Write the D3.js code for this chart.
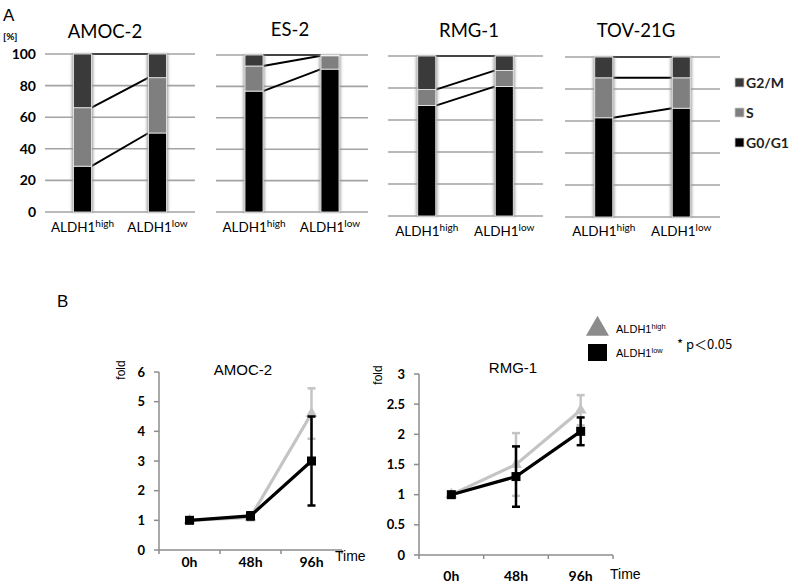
<!DOCTYPE html>
<html><head><meta charset="utf-8">
<script src="https://cdn.jsdelivr.net/npm/d3@7"></script>
<style>body{margin:0;background:#fff}svg{display:block}</style>
</head><body>
<svg id="c" width="796" height="583"></svg>
<script>
// ---------- Panel A data (cell-cycle %) ----------
const groups = ["ALDH1high", "ALDH1low"];
const phases = ["G0/G1", "S", "G2/M"];
const cellLines = ["AMOC-2", "ES-2", "RMG-1", "TOV-21G"];
// values [G0/G1, S, G2/M] for high then low
const amocPhase = [[29, 37, 34], [50, 35, 15]];
const es2Phase = [[77, 16, 7], [91, 8.5, 0.5]];
const rmgPhase = [[69, 10, 21], [81, 10, 9]];
const tovPhase = [[62, 25, 13], [68, 19, 13]];
const pctTicks = [0, 20, 40, 60, 80, 100];

// ---------- Panel B data (fold growth) ----------
const times = ["0h", "48h", "96h"];
const amocHigh = [1, 1.1, 4.6];
const amocHighErr = [0.05, 0.1, 0.85];
const amocLow = [1, 1.15, 3.0];
const amocLowErr = [0.05, 0.12, 1.5];
const rmgHigh = [1, 1.5, 2.4];
const rmgHighErr = [0.03, 0.52, 0.25];
const rmgLow = [1, 1.3, 2.05];
const rmgLowErr = [0.03, 0.5, 0.23];
const amocTicks = [0, 1, 2, 3, 4, 5, 6];
const rmgTicks = [0, 0.5, 1, 1.5, 2, 2.5, 3];

const svg = d3.select("#c");
const defs = svg.append("defs");
const f = defs.append("filter").attr("id", "sh").attr("x", "-50%").attr("width", "200%");
f.append("feGaussianBlur").attr("stdDeviation", 1.6);

const phaseColor = {"G0/G1": "#000", "S": "#7f7f7f", "G2/M": "#3a3a3a"};
const gridCol = "#a3a3a3";
const calib = "Lato, 'Open Sans', sans-serif";
const arial = "'Liberation Sans', Arial, sans-serif";

// panel labels
svg.append("text").attr("x", 3).attr("y", 21).text("A")
  .attr("font-family", arial).attr("font-size", 17);
svg.append("text").attr("x", 3).attr("y", 40).text("[%]")
  .attr("font-family", calib).attr("font-size", 10).attr("font-weight", 700);

const aLayout = [
  {name: cellLines[0], data: amocPhase, x0: 45, x1: 195, yTop: 54, yBot: 212, tx: 105, ty: 38, ly: 232, axis: true},
  {name: cellLines[1], data: es2Phase, x0: 216, x1: 368, yTop: 55, yBot: 212, tx: 290, ty: 36, ly: 232},
  {name: cellLines[2], data: rmgPhase, x0: 388, x1: 543, yTop: 56, yBot: 216, tx: 469, ty: 37, ly: 236},
  {name: cellLines[3], data: tovPhase, x0: 565, x1: 720, yTop: 57, yBot: 217, tx: 636, ty: 37, ly: 236}
];
const barW = 18;

aLayout.forEach(p => {
  const g = svg.append("g");
  const x = d3.scalePoint().domain(groups).range([p.x0, p.x1]).padding(0.5);
  const y = d3.scaleLinear().domain([0, 100]).range([p.yBot, p.yTop]);
  // gridlines
  g.selectAll("line.grid").data(pctTicks).join("line")
    .attr("x1", p.x0).attr("x2", p.x1)
    .attr("y1", d => y(d)).attr("y2", d => y(d))
    .attr("stroke", gridCol).attr("stroke-width", 1.6);
  if (p.axis) {
    g.selectAll("text.yt").data(pctTicks).join("text")
      .attr("x", 36).attr("y", d => y(d)).attr("dy", "0.35em")
      .attr("text-anchor", "end").attr("font-family", calib)
      .attr("font-size", 14).attr("font-weight", 700).text(d => d);
  }
  // title
  g.append("text").attr("x", p.tx).attr("y", p.ty).attr("text-anchor", "middle")
    .attr("font-family", calib).attr("font-size", 18.5).text(p.name);
  // stacks
  const stacked = groups.map((grp, i) => {
    let c = 0;
    return phases.map((ph, j) => {
      const s = {grp, ph, y0: c, y1: c + p.data[i][j]};
      c += p.data[i][j];
      return s;
    });
  });
  // connectors (boundaries)
  for (let j = 0; j < 3; j++) {
    const a = stacked[0][j], b = stacked[1][j];
    g.append("line")
      .attr("x1", x(groups[0]) + barW / 2).attr("y1", y(a.y1))
      .attr("x2", x(groups[1]) - barW / 2).attr("y2", y(b.y1))
      .attr("stroke", j === 2 ? "#444" : "#000").attr("stroke-width", 2);
  }
  stacked.forEach((st, i) => {
    const top = st[2].y1;
    g.append("rect").attr("x", x(groups[i]) - barW / 2 - 1.5).attr("width", barW + 3)
      .attr("y", y(top)).attr("height", y(0) - y(top))
      .attr("fill", "#999").attr("filter", "url(#sh)");
    g.selectAll(null).data(st).join("rect")
      .attr("x", x(groups[i]) - barW / 2).attr("width", barW)
      .attr("y", d => y(d.y1)).attr("height", d => y(d.y0) - y(d.y1))
      .attr("fill", d => phaseColor[d.ph])
      .attr("stroke", "#f0f0f0").attr("stroke-width", 0.8);
  });
  // x labels
  groups.forEach(grp => {
    const t = g.append("text").attr("x", x(grp)).attr("y", p.ly)
      .attr("text-anchor", "middle").attr("font-family", calib).attr("font-size", 13.5);
    t.append("tspan").text("ALDH1");
    t.append("tspan").attr("dy", -5).attr("font-size", 10).text(grp.replace("ALDH1", ""));
  });
});

// legend A
const legA = ["G2/M", "S", "G0/G1"];
legA.forEach((ph, i) => {
  const yy = 83 + i * 30;
  svg.append("rect").attr("x", 735).attr("y", yy - 5).attr("width", 9).attr("height", 9)
    .attr("fill", phaseColor[ph]).attr("stroke", "#ccc").attr("stroke-width", 0.8);
  svg.append("text").attr("x", 746).attr("y", yy).attr("dy", "0.38em")
    .attr("font-family", calib).attr("font-size", 14).attr("font-weight", 700)
    .attr("fill", "#222").text(ph);
});

// ---------- Panel B ----------
svg.append("text").attr("x", 57).attr("y", 307).text("B")
  .attr("font-family", arial).attr("font-size", 17);

const bLayout = [
  {name: "AMOC-2", high: amocHigh, highErr: amocHighErr, low: amocLow, lowErr: amocLowErr,
   ticks: amocTicks, max: 6, x0: 159, x1: 342, yTop: 372, yBot: 550,
   tx: 243, ty: 375, foldX: 125, foldY: 370, timeX: 335, timeY: 561, lblY: 567},
  {name: "RMG-1", high: rmgHigh, highErr: rmgHighErr, low: rmgLow, lowErr: rmgLowErr,
   ticks: rmgTicks, max: 3, x0: 419, x1: 613, yTop: 374, yBot: 555,
   tx: 513, ty: 373, foldX: 382, foldY: 375, timeX: 610, timeY: 579, lblY: 581}
];

bLayout.forEach(p => {
  const g = svg.append("g");
  const x = d3.scaleBand().domain(times).range([p.x0, p.x1]);
  const y = d3.scaleLinear().domain([0, p.max]).range([p.yBot, p.yTop]);
  const axCol = "#8c8c8c";
  // y axis
  g.append("line").attr("x1", p.x0).attr("x2", p.x0).attr("y1", p.yBot).attr("y2", p.yTop)
    .attr("stroke", axCol).attr("stroke-width", 1.5);
  g.selectAll("line.yt").data(p.ticks).join("line")
    .attr("x1", p.x0 - 5).attr("x2", p.x0).attr("y1", d => y(d)).attr("y2", d => y(d))
    .attr("stroke", axCol).attr("stroke-width", 1.5);
  g.selectAll("text.yl").data(p.ticks).join("text")
    .attr("x", p.x0 - 14).attr("y", d => y(d)).attr("dy", "0.35em").attr("text-anchor", "end")
    .attr("font-family", calib).attr("font-size", 13).attr("font-weight", 700).text(d => d);
  // x axis
  g.append("line").attr("x1", p.x0).attr("x2", p.x1).attr("y1", p.yBot).attr("y2", p.yBot)
    .attr("stroke", axCol).attr("stroke-width", 1.5);
  const bounds = times.map(t => x(t)).concat([p.x1]);
  g.selectAll("line.xt").data(bounds).join("line")
    .attr("x1", d => d).attr("x2", d => d).attr("y1", p.yBot).attr("y2", p.yBot + 4)
    .attr("stroke", axCol).attr("stroke-width", 1.5);
  g.selectAll("text.xl").data(times).join("text")
    .attr("x", d => x(d) + x.bandwidth() / 2).attr("y", p.lblY).attr("text-anchor", "middle")
    .attr("font-family", calib).attr("font-size", 14).attr("font-weight", 700).text(d => d);
  g.append("text").attr("x", p.timeX).attr("y", p.timeY).attr("font-family", arial)
    .attr("font-size", 14).text("Time");
  g.append("text").attr("transform", `translate(${p.foldX},${p.foldY}) rotate(-90)`)
    .attr("text-anchor", "middle").attr("font-family", arial).attr("font-size", 12).text("fold");
  g.append("text").attr("x", p.tx).attr("y", p.ty).attr("text-anchor", "middle")
    .attr("font-family", arial).attr("font-size", 15).text(p.name);

  const cx = t => x(t) + x.bandwidth() / 2;
  const series = [
    {v: p.high, e: p.highErr, col: "#c4c4c4", mark: "tri"},
    {v: p.low, e: p.lowErr, col: "#000", mark: "sq"}
  ];
  series.forEach(s => {
    const pts = times.map((t, i) => ({t, v: s.v[i], e: s.e[i]}));
    // error bars
    pts.forEach(d => {
      g.append("line").attr("x1", cx(d.t)).attr("x2", cx(d.t))
        .attr("y1", y(d.v - d.e)).attr("y2", y(d.v + d.e))
        .attr("stroke", s.col).attr("stroke-width", 2.5);
      [d.v - d.e, d.v + d.e].forEach(vv => {
        g.append("line").attr("x1", cx(d.t) - 4).attr("x2", cx(d.t) + 4)
          .attr("y1", y(vv)).attr("y2", y(vv)).attr("stroke", s.col).attr("stroke-width", 2.5);
      });
    });
    g.append("path").datum(pts)
      .attr("d", d3.line().x(d => cx(d.t)).y(d => y(d.v)))
      .attr("fill", "none").attr("stroke", s.col).attr("stroke-width", 3.2);
    if (s.mark === "sq") {
      g.selectAll(null).data(pts).join("rect")
        .attr("x", d => cx(d.t) - 4.5).attr("y", d => y(d.v) - 4.5)
        .attr("width", 9).attr("height", 9).attr("fill", s.col);
    } else {
      g.selectAll(null).data(pts).join("path")
        .attr("d", d3.symbol(d3.symbolTriangle, 60))
        .attr("transform", d => `translate(${cx(d.t)},${y(d.v)})`).attr("fill", s.col);
    }
  });
});

// legend B
svg.append("path").attr("d", d3.symbol(d3.symbolTriangle, 230))
  .attr("transform", "translate(597.5,329)").attr("fill", "#8c8c8c");
svg.append("rect").attr("x", 588).attr("y", 344).attr("width", 19).attr("height", 17).attr("fill", "#000");
[["high", 333], ["low", 357]].forEach(([s, yy]) => {
  const t = svg.append("text").attr("x", 616).attr("y", yy)
    .attr("font-family", arial).attr("font-size", 11);
  t.append("tspan").text("ALDH1");
  t.append("tspan").attr("dy", -4).attr("font-size", 7.5).text(s);
});
svg.append("text").attr("x", 677).attr("y", 349).attr("font-family", "'Noto Sans CJK JP', " + arial)
  .attr("font-size", 13).text("* p＜0.05");
</script>
</body></html>
